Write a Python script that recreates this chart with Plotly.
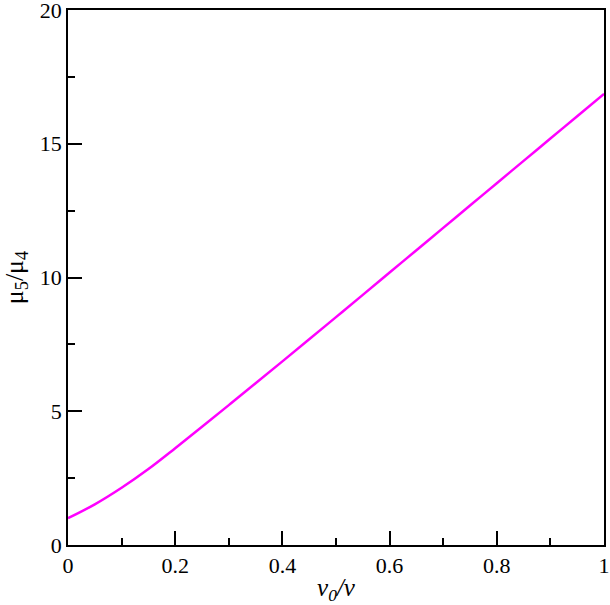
import plotly.graph_objects as go

x_vals = [0.0, 0.05, 0.1, 0.15, 0.2, 0.25, 0.3, 0.35, 0.4, 0.45, 0.5, 0.55, 0.6, 0.65, 0.7, 0.75, 0.8, 0.85, 0.9, 0.95, 1.0]
y_vals = [1.0, 1.52, 2.14, 2.84, 3.62, 4.42, 5.23, 6.045, 6.865, 7.69, 8.52, 9.35, 10.185, 11.02, 11.855, 12.69, 13.525, 14.36, 15.195, 16.03, 16.865]

x_ticks = [0, 0.2, 0.4, 0.6, 0.8, 1]
x_tick_labels = ["0", "0.2", "0.4", "0.6", "0.8", "1"]
y_ticks = [0, 5, 10, 15, 20]
y_tick_labels = ["0", "5", "10", "15", "20"]

fig = go.Figure()
fig.add_trace(go.Scatter(x=x_vals, y=y_vals, mode="lines",
                         line=dict(color="#ff00ff", width=2.5, shape="spline", smoothing=1.0),
                         showlegend=False, hoverinfo="skip"))

font_family = "Liberation Serif"
axis_common = dict(showgrid=False, zeroline=False, showline=True, linecolor="black",
                   linewidth=1.5, mirror=True, ticks="inside", ticklen=14, tickwidth=1.5,
                   tickcolor="black", automargin=False, ticklabeloverflow="allow",
                   tickfont=dict(family=font_family, size=22, color="black"))

fig.update_xaxes(range=[0, 1], tickvals=x_ticks, ticktext=x_tick_labels,
                 minor=dict(dtick=0.1, ticks="inside", ticklen=7, tickwidth=1.5, tickcolor="black"),
                 title=dict(text="<i>v<sub>0</sub></i><i>/v</i>", font=dict(family=font_family, size=25, color="black"), standoff=2),
                 **axis_common)
fig.update_yaxes(range=[0, 20], tickvals=y_ticks, ticktext=y_tick_labels,
                 minor=dict(dtick=2.5, ticks="inside", ticklen=7, tickwidth=1.5, tickcolor="black"),
                 title=dict(text="μ<sub>5</sub>/μ<sub>4</sub>", font=dict(family=font_family, size=26, color="black"), standoff=11),
                 **axis_common)

fig.update_layout(width=610, height=605, margin=dict(l=68, r=6, t=10, b=60),
                  font=dict(family=font_family, color="black"),
                  plot_bgcolor="white", paper_bgcolor="white")

fig.write_html("out.html", config={"displayModeBar": False},
               post_script="document.body.style.margin='0';")
